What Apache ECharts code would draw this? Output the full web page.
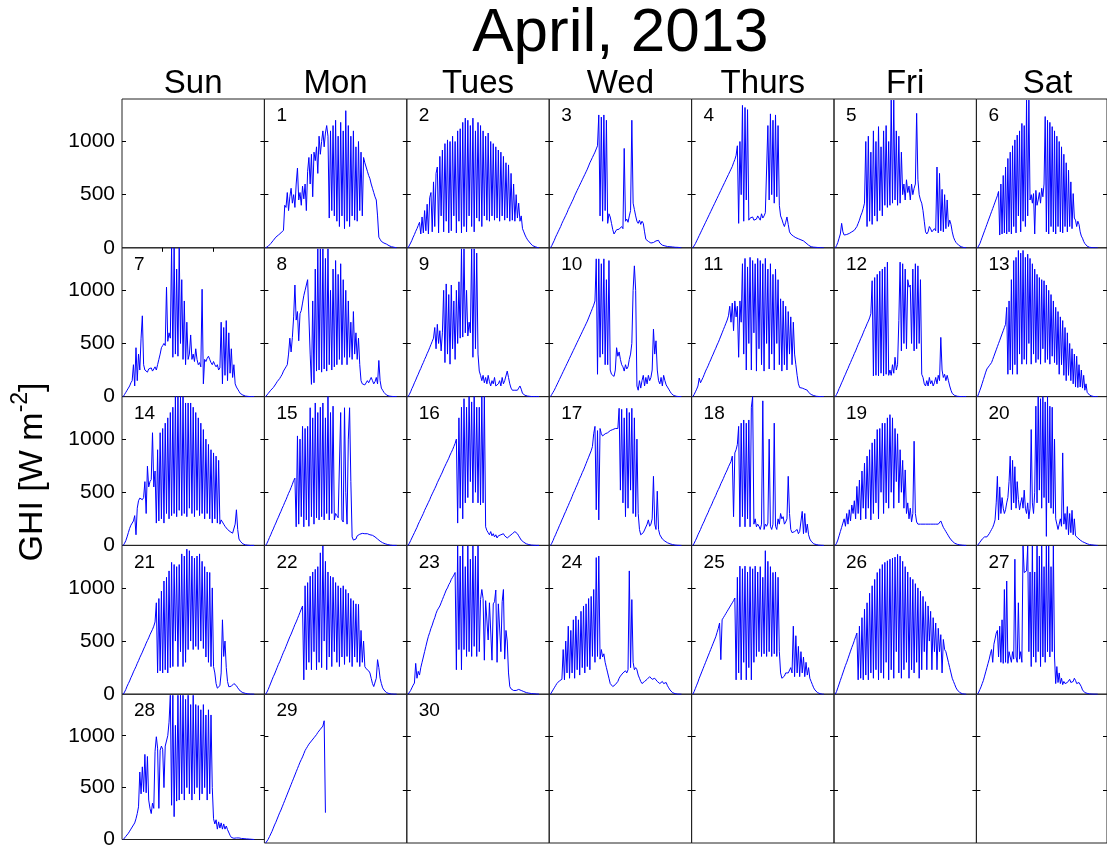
<!DOCTYPE html>
<html>
<head>
<meta charset="utf-8">
<title>April, 2013 GHI</title>
<script src="https://cdn.jsdelivr.net/npm/echarts@6/dist/echarts.min.js"></script>
<style>
  html, body { margin: 0; padding: 0; background: #fff; }
  #chart { width: 1107px; height: 850px; }
</style>
</head>
<body>
<div id="chart"></div>
<script>
// sampling of every day record: hours, first sample + step
const sampleStart = 6.125;
const sampleStep = 0.125;

const weekDays = ['Sun', 'Mon', 'Tues', 'Wed', 'Thurs', 'Fri', 'Sat'];
const yTickLabels = [0, 500, 1000];
const yTicks = [500, 1000];
const hourTicks = [10, 15];

// GHI [W m-2], one array per day
const apr01 = [0,5,15,25,40,55,70,85, 100,110,120,130,140,150,165,400, 380,520,350,480,560,420,500,380, 600,750,450,520,400,580,460,600, 350,720,850,600,880,480,900,820, 950,700,1050,880,1000,1100,950,1080, 1150,1050,280,1100,350,1150,300,1200, 250,1050,200,1180,300,1100,180,1290, 250,1150,200,1050,300,1100,260,950, 250,1000,350,900,300,850,800,760, 720,680,650,600,560,520,480,450, 300,100,80,60,50,45,40,35, 30,20,15,10,8,5,3,0];
const apr02 = [0,15,45,70,100,125,155,180, 210,240,130,290,140,350,160,410, 130,470,520,150,620,200,700,760, 140,860,300,920,150,980,250,1015, 140,1000,160,1050,300,1000,140,1100, 250,1120,140,1180,200,1220,150,1200, 300,1150,200,1220,150,1100,280,1180, 250,1150,200,1100,300,1050,260,1080, 250,1000,300,980,260,950,280,920, 250,900,300,860,260,800,280,780, 250,700,260,600,250,500,280,420, 250,300,180,150,120,95,75,60, 45,30,20,15,10,5,2,0];
const apr03 = [0,20,45,70,100,125,150,175, 200,230,255,280,305,330,360,385, 410,435,460,490,515,540,565,590, 615,640,665,690,715,740,770,800, 825,850,875,900,930,960,1250,300, 1230,250,1250,350,1200,230,320,290, 230,170,130,140,170,160,175,160, 200,180,935,250,270,240,300,350, 1200,420,360,300,250,230,260,220, 250,230,150,80,70,60,50,45, 45,50,55,65,75,70,45,30, 25,20,18,15,12,10,10,8, 8,6,5,5,4,3,2,0];
const apr04 = [0,15,40,65,90,115,140,165, 190,215,240,265,290,315,340,365, 390,415,440,465,490,515,540,565, 590,615,640,665,690,715,740,765, 800,830,870,960,230,1000,500,1340, 250,1320,450,1300,260,280,270,290, 260,250,270,300,280,260,320,280, 300,330,320,1150,450,1260,500,1200, 420,1250,480,1150,400,300,270,230, 200,240,290,220,150,130,120,110, 100,95,90,85,80,75,70,65, 55,45,35,25,15,10,8,6, 5,4,3,2,2,1,1,0];
const apr05 = [0,20,50,90,130,230,150,120, 120,125,130,135,140,150,155,165, 180,200,230,260,300,330,370,420, 1000,200,1050,250,900,220,1100,300, 1000,250,1140,350,950,300,1100,400, 1150,380,1000,400,1390,420,1390,450, 1100,400,1050,420,900,500,600,450, 640,520,580,450,600,500,560,600, 1265,640,500,450,420,350,250,150, 130,150,200,180,150,140,180,160, 760,140,700,160,550,150,500,180, 450,200,260,220,150,100,70,50, 35,25,15,10,5,3,2,0];
const apr06 = [0,15,40,70,100,130,160,190, 220,250,280,310,340,370,400,430, 460,490,530,120,600,130,680,140, 760,130,840,150,900,130,960,200, 1015,140,1060,300,1100,150,1170,250, 1150,200,1390,300,1390,450,500,420, 510,130,540,400,450,520,420,560, 480,600,1235,150,1200,130,1180,200, 1140,150,1100,130,1050,200,1000,150, 950,140,880,200,800,150,730,200, 620,180,510,280,260,200,250,220, 150,110,90,60,40,25,15,10, 5,3,2,1,0,0,0,0];
const apr07 = [0,20,40,60,80,100,130,150, 300,100,460,150,400,250,550,760, 300,250,260,230,260,250,270,240, 260,280,250,300,350,400,460,480, 500,480,1030,520,600,550,1400,370, 1400,400,1200,380,1400,500,1100,350, 900,300,700,350,400,580,350,400, 330,450,350,300,320,280,1010,120, 350,330,360,380,350,320,300,330, 300,280,300,250,270,700,120,650, 200,715,150,600,220,450,180,300, 120,90,70,50,30,20,15,10, 5,3,2,1,0,0,0,0];
const apr08 = [0,15,30,45,60,70,85,100, 120,140,150,170,190,210,240,260, 280,300,400,550,420,557,750,1050, 720,800,525,780,810,880,950,1000, 1050,1100,1090,400,115,900,130,1200, 240,1390,250,1390,230,1390,260,1300, 240,1390,300,1000,250,1200,280,1280, 300,1150,350,1250,300,1100,370,1000, 300,900,370,700,350,800,400,600, 350,550,300,150,120,115,110,120, 150,130,115,180,150,120,140,180, 120,340,150,80,60,40,25,15, 10,5,3,2,1,0,0,0];
const apr09 = [0,20,45,75,100,130,155,185, 210,240,265,295,320,350,375,405, 430,460,490,520,550,650,450,680, 500,620,430,600,1000,320,1060,400, 960,305,1050,450,900,350,1000,500, 1080,550,1390,560,1390,600,1000,570, 700,600,1390,370,1390,450,1350,400, 240,200,150,200,130,180,120,200, 140,100,150,120,180,100,90,120, 150,100,180,120,150,160,240,180, 120,80,60,70,60,50,60,80, 100,70,30,20,12,8,5,3, 2,1,0,0,0,0,0,0];
const apr10 = [0,20,40,60,85,110,135,160, 185,210,235,260,285,310,335,360, 385,410,435,460,485,510,535,560, 585,610,635,660,685,710,740,770, 800,830,860,900,1296,210,1296,370, 1250,400,1296,300,1100,300,1280,250, 210,200,190,250,460,380,420,350, 300,280,240,300,260,280,350,400, 500,1000,1230,1000,100,60,150,80, 150,200,100,180,120,200,150,180, 250,635,400,525,250,150,120,180, 100,200,150,110,90,70,50,30, 20,10,5,3,1,0,0,0];
const apr11 = [0,20,45,70,100,175,130,155, 180,210,240,265,290,320,345,375, 400,430,455,485,510,540,570,600, 630,660,690,720,760,850,700,880, 620,900,750,850,370,900,700,1250, 400,1300,250,1220,500,1310,250,1280, 600,1250,240,1300,450,1280,300,1250, 240,1300,500,1200,260,1250,400,1150, 250,1200,500,1100,300,920,240,900, 300,850,250,800,400,750,300,700, 400,300,200,120,85,90,80,90, 70,80,60,40,30,20,15,10, 5,3,2,1,0,0,0,0];
const apr12 = [0,20,45,75,100,130,155,185, 210,240,265,295,320,350,375,405, 430,460,490,515,545,570,600,630, 655,685,710,740,780,1090,195,1120, 200,1150,195,1180,220,1200,195,1220, 210,1265,200,250,200,300,220,370, 250,300,715,1265,430,1250,500,1200, 450,1100,1030,1050,500,1200,430,1250, 450,1230,500,1100,210,180,120,100, 150,100,180,120,150,100,130,180, 120,200,150,557,250,180,210,150, 200,150,100,60,30,15,10,5, 3,2,1,0,0,0,0,0];
const apr13 = [0,30,60,90,125,160,195,230, 260,275,290,300,320,350,380,410, 440,470,500,530,560,590,620,650, 680,840,210,900,250,1100,210,1280, 300,1310,210,1375,400,1350,305,1375, 350,1310,305,1340,500,1300,305,1250, 400,1200,320,1150,350,1120,305,1100, 450,1090,320,1050,350,1000,305,960, 380,900,320,840,300,800,210,750, 300,715,200,650,150,600,200,500, 150,450,120,400,90,380,85,300, 90,250,80,200,60,120,40,25, 15,8,5,2,0,0,0,0];
const apr14 = [0,20,45,80,120,160,190,210, 230,280,100,350,420,445,440,430, 450,600,300,745,550,600,620,1060, 550,700,210,900,230,1060,250,1100, 210,1150,300,1200,250,1250,280,1300, 300,1400,270,1400,330,1400,280,1400, 300,1340,270,1340,350,1340,300,1300, 270,1250,330,1200,280,1150,300,1090, 250,1000,300,950,250,900,210,870, 250,840,210,800,200,240,220,200, 180,170,150,140,130,120,115,100, 200,335,150,60,40,25,15,10, 5,3,2,1,0,0,0,0];
const apr15 = [0,20,45,75,100,130,155,185, 210,240,265,295,320,350,375,405, 430,460,490,515,545,575,610,633, 175,1030,200,1000,270,1120,175,1100, 240,1120,180,1295,270,1200,200,1340, 260,1250,240,1300,270,1340,240,1200, 300,1400,240,1250,300,1310,240,300, 280,260,250,1250,240,220,1295,500, 200,1000,1295,600,80,50,40,60, 90,100,105,110,113,115,110,113, 110,105,100,100,95,90,80,70, 60,50,40,30,25,20,15,10, 8,5,3,2,0,0,0,0];
const apr16 = [0,20,45,70,95,120,145,170, 200,225,250,275,300,330,355,380, 405,430,460,485,510,535,560,590, 615,640,665,690,720,745,770,795, 820,850,875,900,930,960,1000,210, 1200,350,1300,250,1380,400,1300,450, 1400,600,1350,400,1400,500,1300,400, 1300,380,1400,400,1400,175,140,120, 100,130,90,110,80,100,70,90, 80,100,90,110,90,80,70,80, 90,100,110,120,130,120,110,90, 70,50,40,30,20,15,10,8, 5,3,2,1,0,0,0,0];
const apr17 = [0,20,45,75,100,130,155,185, 210,240,265,295,320,350,375,405, 430,460,490,515,545,570,600,630, 655,685,710,740,770,800,830,860, 890,930,1050,1120,335,1080,240,1100, 1050,1030,1040,1050,1060,1060,1070,1080, 1080,1090,1090,1100,1110,1100,1290,520, 1280,400,1200,270,1290,350,1250,520, 1290,300,1200,270,1000,300,150,100, 85,120,145,150,200,240,180,200, 250,650,200,150,510,150,100,90, 60,50,40,30,25,20,15,10, 8,5,3,2,1,0,0,0];
const apr18 = [0,20,45,70,100,125,150,180, 205,230,260,285,310,340,365,390, 420,445,470,500,525,550,580,605, 630,660,685,710,740,765,790,840, 270,870,900,950,1120,175,1150,270, 1180,175,1150,250,1180,175,1300,1400, 200,250,175,200,180,150,200,1360, 150,200,180,210,1000,180,150,200, 1150,180,150,250,200,300,250,270, 200,220,250,650,300,150,120,110, 130,120,150,110,130,120,320,110, 300,120,200,100,60,40,25,15, 10,8,5,3,2,1,0,0];
const apr19 = [0,20,50,90,130,170,210,250, 180,300,200,335,230,380,300,420, 250,555,300,615,240,700,350,775, 250,840,350,900,240,965,300,1000, 400,1090,250,1100,500,1150,300,1150, 400,1200,350,1230,500,1200,350,1100, 600,1050,400,900,500,800,350,710, 300,400,250,350,220,300,980,300, 220,200,210,200,190,200,210,200, 190,200,210,200,190,200,210,200, 190,200,210,230,200,170,150,130, 110,90,70,55,40,30,20,15, 10,8,5,3,2,1,0,0];
const apr20 = [0,15,30,45,60,70,80,85, 80,90,110,130,150,170,200,240, 400,650,240,550,300,450,350,300, 335,400,450,600,840,335,800,400, 740,350,600,430,335,400,450,350, 520,350,300,400,250,350,1090,400, 300,500,1310,400,1400,520,1380,350, 1400,450,1350,85,1400,400,1310,350, 1300,300,1000,250,200,150,200,250, 180,870,200,300,150,365,100,300, 120,330,100,250,90,80,70,60, 50,40,35,30,25,20,15,10, 8,6,5,3,2,1,0,0];
const apr21 = [0,20,45,75,100,125,155,180, 210,235,260,290,315,345,370,395, 425,450,480,505,530,560,585,610, 640,680,860,200,900,220,970,200, 1065,230,1100,200,1160,250,1240,260, 1220,500,1200,260,1220,400,1320,260, 1300,300,1365,420,1350,500,1300,420, 1280,450,1300,420,1320,500,1250,430, 1200,350,1150,300,1145,260,1000,260, 200,100,57,60,80,200,700,355, 500,250,120,70,70,75,90,100, 95,80,60,45,30,20,15,10, 8,5,3,2,1,0,0,0];
const apr22 = [0,20,45,75,105,135,165,190, 220,250,280,305,335,365,395,420, 450,480,510,540,565,595,625,655, 680,710,740,770,800,830,135,1020, 230,1050,300,1110,230,1150,400,1175, 230,1200,300,1330,250,1395,500,1250, 230,1150,350,1110,260,1100,400,1050, 300,1020,260,1000,350,1020,280,985, 355,950,300,900,260,880,350,850, 300,845,260,600,300,500,260,240, 230,220,200,150,100,72,80,150, 325,250,150,100,60,40,25,15, 10,6,4,2,1,0,0,0];
const apr23 = [0,15,35,60,85,105,290,150, 215,180,250,300,350,400,450,500, 545,580,620,650,690,720,760,790, 810,830,860,890,920,950,980,1000, 1030,1050,1080,1100,1120,1145,230,1395, 420,1300,230,1395,420,1200,355,1395, 400,1270,355,1395,450,1300,355,1395, 400,890,985,900,320,880,870,510, 860,860,320,850,870,980,300,850, 860,400,870,985,330,600,500,200, 72,50,40,35,30,35,40,45, 40,35,30,25,20,15,12,10, 8,6,5,4,3,2,1,0];
const apr24 = [0,20,40,60,80,100,115,125, 135,140,420,135,500,200,640,150, 600,200,700,150,735,230,700,180, 780,250,830,200,850,260,900,230, 920,355,985,300,1285,355,1300,330, 420,350,380,300,250,200,150,100, 85,72,80,90,100,120,150,170, 180,200,190,220,200,230,1160,250, 890,300,230,250,230,180,150,120, 100,110,120,130,140,150,165,160, 140,130,150,140,120,110,100,110, 120,100,90,110,80,60,40,25, 15,10,5,3,1,0,0,0];
const apr25 = [0,25,55,85,115,150,180,210, 240,270,300,330,360,390,420,450, 480,510,540,580,620,670,325,700, 720,740,760,780,800,820,840,860, 880,905,135,1100,200,1205,135,1180, 300,1205,135,1150,250,1200,135,1180, 300,1205,355,1150,400,1200,355,1100, 380,1350,355,1250,400,1200,355,1145, 380,1150,355,1100,400,200,150,135, 170,200,190,200,210,250,200,640, 165,550,200,450,165,400,200,350, 165,300,180,250,150,120,90,60, 40,25,15,10,5,2,0,0];
const apr26 = [0,25,60,95,130,165,200,235, 270,300,335,370,405,440,470,505, 540,575,135,640,150,720,135,800, 180,860,135,950,200,1020,150,1080, 230,1145,135,1180,200,1220,150,1240, 300,1255,135,1270,230,1280,150,1290, 400,1315,200,1300,150,1250,230,1200, 300,1150,150,1100,230,1080,200,1040, 300,1000,150,970,230,920,400,870, 230,830,500,780,230,720,400,670, 230,620,400,560,200,515,420,400, 350,300,250,200,150,120,90,60, 40,25,15,8,4,2,0,0];
const apr27 = [0,20,45,70,100,130,170,210, 250,290,330,380,420,300,470,520, 575,600,350,640,300,700,290,985, 300,1065,290,400,350,300,400,330, 1270,350,300,860,330,400,300,1395, 1145,1145,1160,1395,400,1150,260,1395, 350,1150,300,1395,400,1300,260,1395, 350,1200,300,1395,400,1395,350,1200, 400,1395,350,100,260,110,200,100, 150,90,120,100,90,110,120,140, 110,100,120,150,130,100,90,110, 100,70,40,25,15,10,8,5, 3,2,1,0,0,0,0,0];
const apr28 = [0,15,30,45,60,80,100,120, 140,160,200,250,315,650,440,700, 460,820,450,800,380,300,250,350, 300,850,990,880,300,860,900,870, 500,900,915,1000,1130,1390,330,1390, 220,1100,370,1390,380,1390,440,1390, 380,1350,500,1390,440,1300,380,1390, 440,1300,500,1290,380,1250,440,1300, 500,1200,380,1250,440,1200,500,200, 150,190,100,170,110,160,100,150, 100,130,95,100,40,20,15,12, 15,15,12,15,12,10,10,8, 8,6,5,4,3,2,1,0];
const apr29 = [0,15,35,60,85,110,140,170, 195,225,255,285,310,340,370,400, 430,460,490,520,550,580,610,640, 670,700,730,760,785,810,840,870, 890,910,930,945,960,975,990,1005, 1020,1040,1050,1070,1085,1100,1150,285];

const days = [apr01, apr02, apr03, apr04, apr05, apr06, apr07, apr08, apr09, apr10,
  apr11, apr12, apr13, apr14, apr15, apr16, apr17, apr18, apr19, apr20,
  apr21, apr22, apr23, apr24, apr25, apr26, apr27, apr28, apr29, []];

// layout of the calendar (April 1 2013 is a Monday -> cell 1)
const LEFT = 122, TOP = 99, CW = 142.4, RH = 148.8;
const FONT = 'Liberation Sans, Arial, Helvetica, sans-serif';

const chart = echarts.init(document.getElementById('chart'));

const grids = [], xAxes = [], yAxes = [], series = [], graphics = [];

for (let cell = 0; cell < 35; cell++) {
  const col = cell % 7, row = Math.floor(cell / 7);
  grids.push({
    left: LEFT + col * CW, top: TOP + row * RH, width: CW, height: RH,
    show: true, borderColor: '#222', borderWidth: 1, backgroundColor: 'transparent'
  });
  xAxes.push({
    gridIndex: cell, type: 'value', min: 6, max: 20,
    position: cell === 0 ? 'top' : 'bottom',
    axisLine: { show: false }, splitLine: { show: false },
    axisLabel: { show: false },
    axisTick: cell === 0
      ? { show: true, inside: true, length: 4, customValues: hourTicks, lineStyle: { color: '#000' } }
      : { show: false }
  });
  yAxes.push({
    gridIndex: cell, type: 'value', min: 0, max: 1400, position: 'left',
    axisLine: { show: false }, splitLine: { show: false },
    axisTick: { show: true, inside: true, length: 4, customValues: yTicks, lineStyle: { color: '#000' } },
    axisLabel: {
      show: col === 0, customValues: yTickLabels, formatter: v => String(v),
      fontSize: 21, color: '#000', margin: 7, fontFamily: FONT
    }
  });
  yAxes.push({
    gridIndex: cell, type: 'value', min: 0, max: 1400, position: 'right',
    axisLine: { show: false }, splitLine: { show: false },
    axisTick: { show: true, inside: true, length: 4, customValues: yTicks, lineStyle: { color: '#000' } },
    axisLabel: { show: false }
  });
}

days.forEach((vals, k) => {
  const dayNo = k + 1, cell = dayNo;
  const col = cell % 7, row = Math.floor(cell / 7);
  graphics.push({
    type: 'text', x: LEFT + col * CW + 12, y: TOP + row * RH + 17, z: 10,
    style: { text: String(dayNo), fontSize: 19, fontFamily: FONT, fill: '#000', verticalAlign: 'middle' }
  });
  if (!vals.length) return;
  series.push({
    type: 'line', xAxisIndex: cell, yAxisIndex: cell * 2,
    data: vals.map((v, i) => [sampleStart + sampleStep * i, v]),
    showSymbol: false, symbol: 'none', clip: true, silent: true,
    lineStyle: { width: 1, color: '#0000ff' }
  });
});

weekDays.forEach((name, col) => {
  graphics.push({
    type: 'text', x: LEFT + col * CW + CW / 2, y: 84,
    style: { text: name, fontSize: 33, fontFamily: FONT, fill: '#000', align: 'center', verticalAlign: 'middle' }
  });
});

graphics.push({
  type: 'text', x: LEFT + 3.5 * CW, y: 34,
  style: { text: 'April, 2013', fontSize: 62, fontFamily: FONT, fill: '#000', align: 'center', verticalAlign: 'middle' }
});

graphics.push({
  type: 'text', x: 33, y: 472, rotation: Math.PI / 2,
  style: {
    text: '{a|GHI [W m}{b|-2}{a|]}',
    align: 'center', verticalAlign: 'middle',
    rich: {
      a: { fontSize: 34, lineHeight: 48, fontFamily: FONT, fill: '#000' },
      b: { fontSize: 23, verticalAlign: 'top', fontFamily: FONT, fill: '#000' }
    }
  }
});

chart.setOption({
  animation: false,
  backgroundColor: '#fff',
  grid: grids,
  xAxis: xAxes,
  yAxis: yAxes,
  series: series,
  graphic: graphics
});
</script>
</body>
</html>
